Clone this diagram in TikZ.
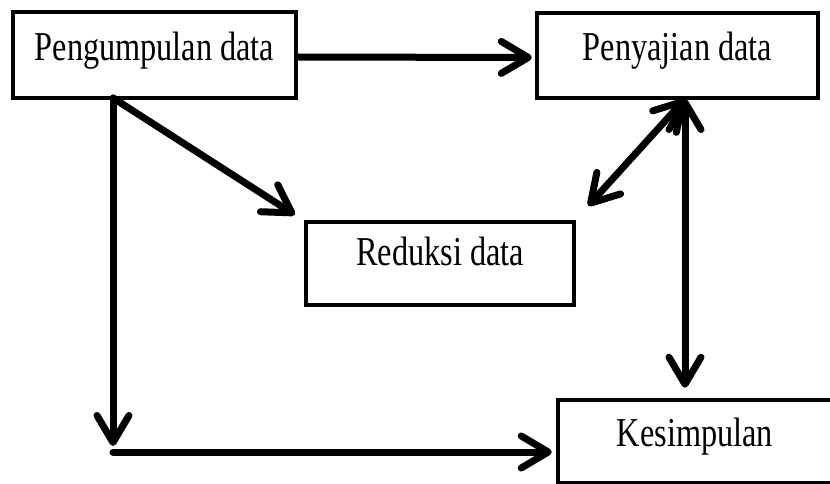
\documentclass[tikz,border=0pt]{standalone}
\usepackage{fontspec}
\usepackage{graphicx}
\setmainfont{Liberation Serif}
\usetikzlibrary{arrows.meta,calc}
\begin{document}
\begin{tikzpicture}[x=1pt,y=-1pt,
  box/.style={draw=black,line width=4.5pt,inner sep=0pt},
  lbl/.style={anchor=base,inner sep=0pt,font=\fontsize{32.3}{36}\selectfont},
  tipa/.tip={Straight Barb[length=27pt,width=32pt,round]},
  conn/.style={line width=7pt,line cap=round,-tipa},
  conntwo/.style={line width=7pt,line cap=round,tipa-tipa}
]
\useasboundingbox (0,0) rectangle (830,484);
\fill[white] (0,0) rectangle (830,484);

% boxes
\node[box,minimum width=283pt,minimum height=86pt] (p) at (154.5,55) {};
\node[box,minimum width=281pt,minimum height=85pt] (q) at (677.5,55.5) {};
\node[box,minimum width=268pt,minimum height=83pt] (r) at (440,263.5) {};
\node[box,minimum width=274pt,minimum height=83pt] (s) at (695,441.5) {};

% labels
\node[lbl] (tp) at (154.5,61) {\scalebox{1}[1.27]{Pengumpulan data}};
\node[lbl] (tq) at (677.5,61) {\scalebox{1}[1.27]{Penyajian data}};
\node[lbl] (tr) at (440,265) {\scalebox{1}[1.27]{Reduksi data}};
\node[lbl] (ts) at (695,446) {\scalebox{1}[1.27]{Kesimpulan}};

% connection points
\coordinate (pb) at (113,98);
\coordinate (qb) at (685,99);
\coordinate (corner) at (113,452);

% connectors
\draw[conn] ([yshift=-2pt]p.east) -- ([xshift=-3pt,yshift=-2pt]q.west);
\draw[conn] (pb) -- ([yshift=6pt]corner);
\draw[line width=7pt,line cap=round,-tipa] (corner) -- ([xshift=-4pt]corner -| s.west);
\draw[conn] (pb) -- ([shift={(-9pt,5pt)}]r.north west);
\draw[conntwo] (qb) -- ([shift={(12pt,14pt)}]r.north east);
\draw[conntwo] (qb) -- ([yshift=10pt]s.north -| qb);
\end{tikzpicture}
\end{document}
